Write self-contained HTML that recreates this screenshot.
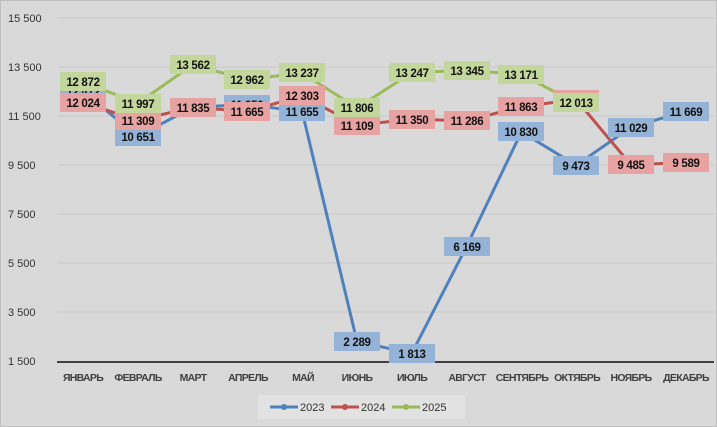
<!DOCTYPE html>
<html><head><meta charset="utf-8"><style>
html,body{margin:0;padding:0;background:#d9d9d9}
svg{display:block;font-family:"Liberation Sans",sans-serif}
</style></head><body>
<svg width="717" height="427" viewBox="0 0 717 427" xmlns="http://www.w3.org/2000/svg">
<rect x="0.5" y="0.5" width="716" height="426" fill="#d9d9d9" stroke="#bfbfbf"/>
<g stroke="#c9c9c9" stroke-width="1">
<line x1="57" x2="714" y1="18" y2="18"/><line x1="57" x2="714" y1="67" y2="67"/>
<line x1="57" x2="714" y1="116" y2="116"/><line x1="57" x2="714" y1="165" y2="165"/>
<line x1="57" x2="714" y1="214" y2="214"/><line x1="57" x2="714" y1="263" y2="263"/>
<line x1="57" x2="714" y1="312" y2="312"/>
</g>
<line x1="57" x2="714" y1="362" y2="362" stroke="#404040" stroke-width="2"/>
<g font-size="11" fill="#333" text-anchor="start">
<text x="8" y="22">15 500</text><text x="8" y="71">13 500</text><text x="8" y="120">11 500</text>
<text x="8" y="169">9 500</text><text x="8" y="218">7 500</text><text x="8" y="267">5 500</text>
<text x="8" y="316">3 500</text><text x="8" y="365">1 500</text>
</g>
<g font-size="10.5" font-weight="bold" fill="#404040" text-anchor="middle" style="letter-spacing:-0.7px">
<text x="83" y="381">ЯНВАРЬ</text><text x="138" y="381">ФЕВРАЛЬ</text><text x="193" y="381">МАРТ</text>
<text x="248" y="381">АПРЕЛЬ</text><text x="303" y="381">МАЙ</text><text x="357" y="381">ИЮНЬ</text>
<text x="412" y="381">ИЮЛЬ</text><text x="467" y="381">АВГУСТ</text><text x="522" y="381">СЕНТЯБРЬ</text>
<text x="577" y="381">ОКТЯБРЬ</text><text x="631" y="381">НОЯБРЬ</text><text x="686" y="381">ДЕКАБРЬ</text>
</g>
<g fill="none" stroke-width="3" stroke-linejoin="round">
<polyline stroke="#4f81bd" points="83,91.6 137.8,136.3 192.6,107.3 247.4,104.5 302.2,111.7 357,341.6 411.8,353.3 466.6,246.4 521.4,131.9 576.2,165.3 631,127.1 685.8,111.4"/>
<polyline stroke="#c0504d" points="83,102.6 137.8,120.2 192.6,107.3 247.4,111.5 302.2,95.8 357,125.1 411.8,119.2 466.6,120.8 521.4,106.6 576.2,99.5 631,165 685.8,162.4"/>
<polyline stroke="#9bbb59" points="83,81.8 137.8,103.3 192.6,64.9 247.4,79.6 302.2,72.9 357,108 411.8,72.6 466.6,70.2 521.4,74.5 576.2,102.9"/>
</g>
<g fill="#4f81bd">
<circle cx="83" cy="91.6" r="9"/><circle cx="137.8" cy="136.3" r="9"/><circle cx="192.6" cy="107.3" r="9"/><circle cx="247.4" cy="104.5" r="9"/><circle cx="302.2" cy="111.7" r="9"/><circle cx="357" cy="341.6" r="9"/><circle cx="411.8" cy="353.3" r="9"/><circle cx="466.6" cy="246.4" r="9"/><circle cx="521.4" cy="131.9" r="9"/><circle cx="576.2" cy="165.3" r="9"/><circle cx="631" cy="127.1" r="9"/><circle cx="685.8" cy="111.4" r="9"/>
</g>
<g fill="#c0504d">
<circle cx="83" cy="102.6" r="9"/><circle cx="137.8" cy="120.2" r="9"/><circle cx="192.6" cy="107.3" r="9"/><circle cx="247.4" cy="111.5" r="9"/><circle cx="302.2" cy="95.8" r="9"/><circle cx="357" cy="125.1" r="9"/><circle cx="411.8" cy="119.2" r="9"/><circle cx="466.6" cy="120.8" r="9"/><circle cx="521.4" cy="106.6" r="9"/><circle cx="576.2" cy="99.5" r="9"/><circle cx="631" cy="165" r="9"/><circle cx="685.8" cy="162.4" r="9"/>
</g>
<g fill="#9bbb59">
<circle cx="83" cy="81.8" r="9"/><circle cx="137.8" cy="103.3" r="9"/><circle cx="192.6" cy="64.9" r="9"/><circle cx="247.4" cy="79.6" r="9"/><circle cx="302.2" cy="72.9" r="9"/><circle cx="357" cy="108" r="9"/><circle cx="411.8" cy="72.6" r="9"/><circle cx="466.6" cy="70.2" r="9"/><circle cx="521.4" cy="74.5" r="9"/><circle cx="576.2" cy="102.9" r="9"/>
</g>
<g font-size="11.5" font-weight="bold" fill="#111" text-anchor="middle" style="letter-spacing:-0.3px">
<g fill="#95b3d7">
<rect x="60" y="82" width="46" height="19"/><rect x="115" y="127" width="46" height="19"/><rect x="170" y="98" width="46" height="19"/><rect x="224" y="95" width="46" height="19"/><rect x="279" y="102" width="46" height="19"/><rect x="334" y="332" width="46" height="19"/><rect x="389" y="344" width="46" height="19"/><rect x="444" y="237" width="46" height="19"/><rect x="498" y="122" width="46" height="19"/><rect x="553" y="156" width="46" height="19"/><rect x="608" y="118" width="46" height="19"/><rect x="663" y="102" width="46" height="19"/>
</g>
<text x="83" y="96">12 472</text><text x="138" y="141">10 651</text><text x="193" y="112">11 835</text><text x="247" y="109">11 950</text><text x="302" y="116">11 655</text><text x="357" y="346">2 289</text><text x="412" y="358">1 813</text><text x="467" y="251">6 169</text><text x="521" y="136">10 830</text><text x="576" y="170">9 473</text><text x="631" y="132">11 029</text><text x="686" y="116">11 669</text>
<g fill="#e6a3a1">
<rect x="60" y="93" width="46" height="19"/><rect x="115" y="111" width="46" height="19"/><rect x="170" y="98" width="46" height="19"/><rect x="224" y="102" width="46" height="19"/><rect x="279" y="86" width="46" height="19"/><rect x="334" y="116" width="46" height="19"/><rect x="389" y="110" width="46" height="19"/><rect x="444" y="111" width="46" height="19"/><rect x="498" y="97" width="46" height="19"/><rect x="553" y="90" width="46" height="19"/><rect x="608" y="155" width="46" height="19"/><rect x="663" y="153" width="46" height="19"/>
</g>
<text x="83" y="107">12 024</text><text x="138" y="125">11 309</text><text x="193" y="112">11 835</text><text x="247" y="116">11 665</text><text x="302" y="100">12 303</text><text x="357" y="130">11 109</text><text x="412" y="124">11 350</text><text x="467" y="125">11 286</text><text x="521" y="111">11 863</text><text x="576" y="104">12 150</text><text x="631" y="169">9 485</text><text x="686" y="167">9 589</text>
<g fill="#c3d69b">
<rect x="60" y="72" width="46" height="19"/><rect x="115" y="94" width="46" height="19"/><rect x="170" y="55" width="46" height="19"/><rect x="224" y="70" width="46" height="19"/><rect x="279" y="63" width="46" height="19"/><rect x="334" y="98" width="46" height="19"/><rect x="389" y="63" width="46" height="19"/><rect x="444" y="61" width="46" height="19"/><rect x="498" y="65" width="46" height="19"/><rect x="553" y="93" width="46" height="19"/>
</g>
<text x="83" y="86">12 872</text><text x="138" y="108">11 997</text><text x="193" y="69">13 562</text><text x="247" y="84">12 962</text><text x="302" y="77">13 237</text><text x="357" y="112">11 806</text><text x="412" y="77">13 247</text><text x="467" y="75">13 345</text><text x="521" y="79">13 171</text><text x="576" y="107">12 013</text>
</g>
<rect x="258" y="395" width="207" height="24" fill="#e2e2e2"/>
<g stroke-width="3">
<line x1="270" x2="298" y1="407" y2="407" stroke="#4f81bd"/><circle cx="284" cy="407" r="3" fill="#4f81bd"/>
<line x1="331" x2="359" y1="407" y2="407" stroke="#c0504d"/><circle cx="345" cy="407" r="3" fill="#c0504d"/>
<line x1="392" x2="420" y1="407" y2="407" stroke="#9bbb59"/><circle cx="406" cy="407" r="3" fill="#9bbb59"/>
</g>
<g font-size="11" fill="#333">
<text x="300" y="411">2023</text><text x="361" y="411">2024</text><text x="422" y="411">2025</text>
</g>
</svg>
</body></html>
